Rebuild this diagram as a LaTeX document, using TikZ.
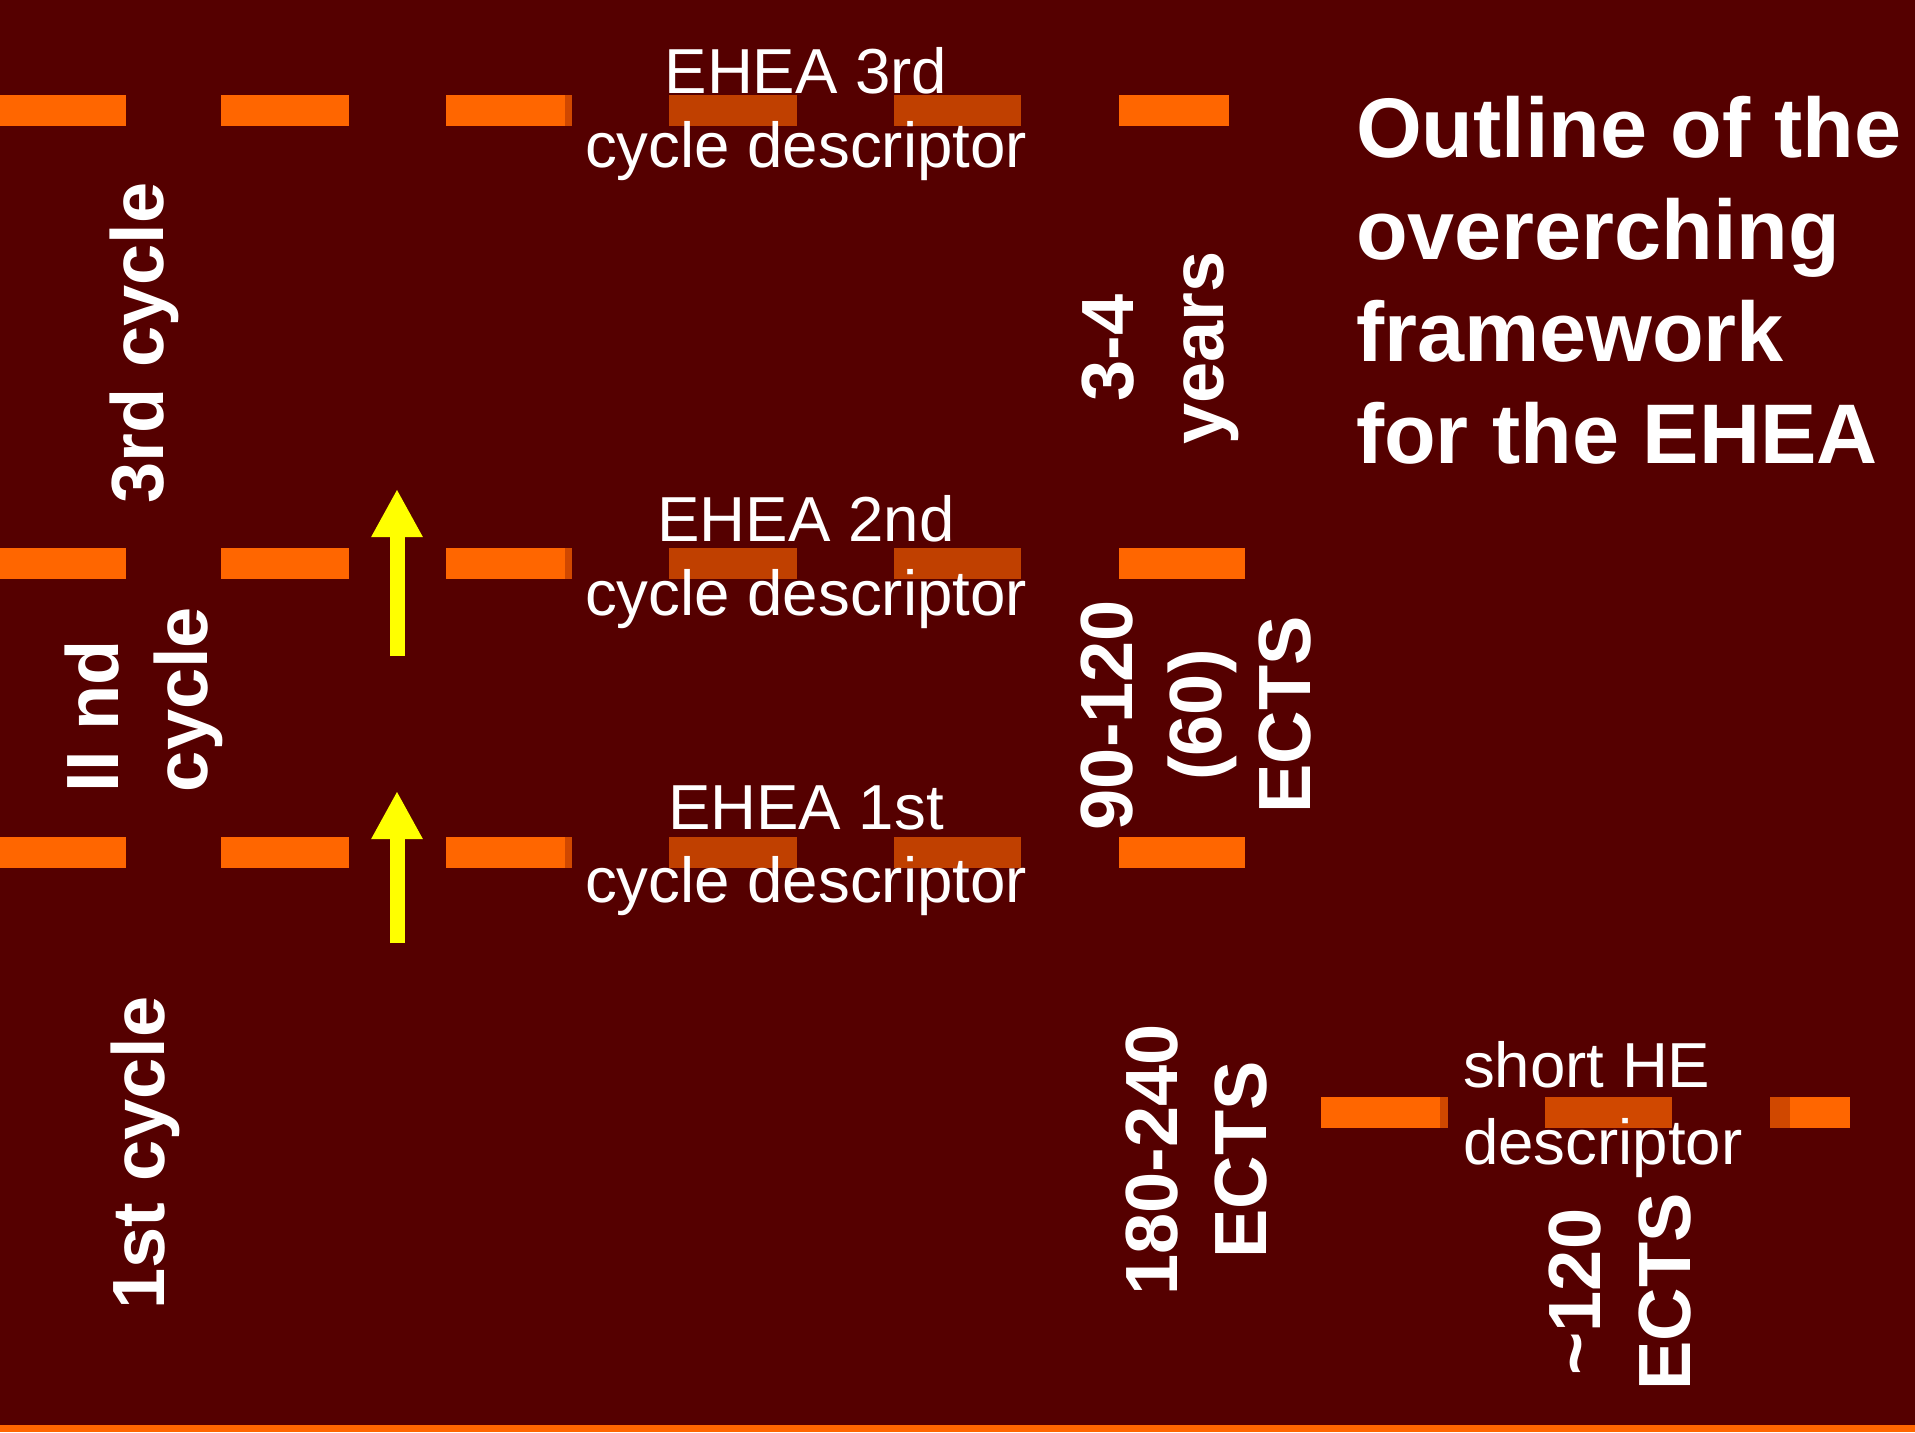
\documentclass[tikz,border=0pt]{standalone}
\usepackage{fontspec}
\setmainfont{Liberation Sans}
\usetikzlibrary{arrows.meta}
\definecolor{bg}{HTML}{550000}
\definecolor{org}{HTML}{FF6600}
\definecolor{dorg}{HTML}{C04000}
\definecolor{morg}{HTML}{D04800}
\definecolor{yel}{HTML}{FFFF00}
\begin{document}
\begin{tikzpicture}[x=0.5pt,y=-0.5pt,
  lbl/.style={text=white,inner sep=0pt,outer sep=0pt,anchor=base,font=\fontsize{31.8}{37}\selectfont},
  blbl/.style={text=white,inner sep=0pt,outer sep=0pt,rotate=90,anchor=base,font=\fontsize{37}{44}\selectfont\bfseries},
  ttl/.style={text=white,inner sep=0pt,outer sep=0pt,anchor=base west,font=\fontsize{42.3}{51}\selectfont\bfseries},
  uparrow/.style={draw=yel,line width=7.5pt,-{Triangle[width=24pt,length=24pt]}}
]
\useasboundingbox (0,0) rectangle (1915,1432);
\fill[bg] (0,0) rectangle (1915,1432);
\fill[org] (0,1425) rectangle (1915,1432);
% dashed level lines
\foreach \y/\r in {95/1229,548/1245,837/1245}{
  \fill[org] (0,\y) rectangle (126,\y+31);
  \fill[org] (221,\y) rectangle (349,\y+31);
  \fill[org] (446,\y) rectangle (565,\y+31);
  \fill[morg] (565,\y) rectangle (572,\y+31);
  \fill[dorg] (669,\y) rectangle (797,\y+31);
  \fill[dorg] (894,\y) rectangle (1021,\y+31);
  \fill[org] (1119,\y) rectangle (\r,\y+31);
}
\fill[org] (1321,1097) rectangle (1440,1128);
\fill[morg] (1440,1097) rectangle (1448,1128);
\fill[morg] (1545,1097) rectangle (1672,1128);
\fill[morg] (1770,1097) rectangle (1790,1128);
\fill[org] (1790,1097) rectangle (1850,1128);
% arrows
\coordinate (a1s) at (397,656);
\coordinate (a1e) at (397,489);
\coordinate (a2s) at (397,943);
\coordinate (a2e) at (397,791);
\draw[uparrow] (a1s) -- (a1e);
\draw[uparrow] (a2s) -- (a2e);
% descriptor labels
\node[lbl] (d3a) at (806,93) {EHEA 3rd};
\node[lbl] (d3b) at (806,167) {cycle descriptor};
\node[lbl] (d2a) at (806,541) {EHEA 2nd};
\node[lbl] (d2b) at (806,615) {cycle descriptor};
\node[lbl] (d1a) at (806,829) {EHEA 1st};
\node[lbl] (d1b) at (806,902) {cycle descriptor};
\node[lbl,anchor=base west] (sha) at (1463,1087) {short HE};
\node[lbl,anchor=base west] (shb) at (1463,1164) {descriptor};
% title
\node[ttl] (t1) at (1356,157) {Outline of the};
\node[ttl] (t2) at (1356,259) {overerching};
\node[ttl] (t3) at (1356,361) {framework};
\node[ttl] (t4) at (1356,463) {for the EHEA};
% cycle labels
\node[blbl] (c3) at (163,343) {3rd cycle};
\node[blbl,anchor=base west] (c2a) at (118,792) {II nd};
\node[blbl,anchor=base west] (c2b) at (207,792) {cycle};
\node[blbl] (c1) at (164,1153) {1st cycle};
% durations / credits
\node[blbl] (y1) at (1133,348) {3-4};
\node[blbl] (y2) at (1223,348) {years};
\node[blbl] (e1) at (1132,715) {90-120};
\node[blbl] (e2) at (1221,715) {(60)};
\node[blbl] (e3) at (1310,715) {ECTS};
\node[blbl] (f1) at (1177,1160) {180-240};
\node[blbl] (f2) at (1266,1160) {ECTS};
\node[blbl] (s1) at (1600,1292) {\textasciitilde120};
\node[blbl] (s2) at (1690,1292) {ECTS};
\end{tikzpicture}
\end{document}
